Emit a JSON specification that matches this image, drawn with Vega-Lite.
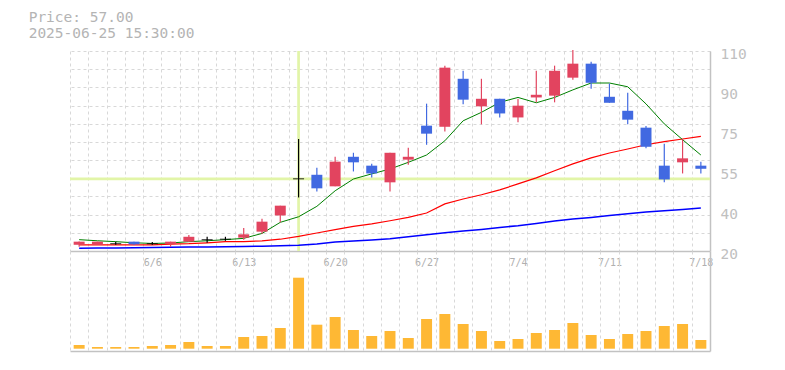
{
  "$schema": "https://vega.github.io/schema/vega-lite/v6.json",
  "background": "white",
  "padding": {"left": 28, "top": 10, "right": 10, "bottom": 10},
  "autosize": {"type": "pad"},
  "config": {"view": {"stroke": null}, "font": "DejaVu Sans Mono"},
  "title": {"text": ["Price: 57.00", "2025-06-25 15:30:00"], "anchor": "start", "dx": -40, "offset": -6, "font": "DejaVu Sans Mono", "fontSize": 14.5, "fontWeight": "normal", "color": "#b4b4b4", "lineHeight": 15.5, "baseline": "alphabetic"},
  "datasets": {
    "cross": [{"date": "2025-06-18", "price": 52.45}],
    "candles": [
      {"date": "2025-06-02", "open": 22.8, "high": 24.3, "low": 21.9, "close": 24.2, "ma5": 25.1, "ma25": 22.8, "ma75": 21.26, "volume": 37000},
      {"date": "2025-06-03", "open": 22.8, "high": 24.2, "low": 22.8, "close": 24.2, "ma5": 24.6, "ma25": 22.8, "ma75": 21.35, "volume": 17000},
      {"date": "2025-06-04", "open": 23.3, "high": 24.2, "low": 22.8, "close": 23.3, "ma5": 24.2, "ma25": 22.8, "ma75": 21.4, "volume": 17000},
      {"date": "2025-06-05", "open": 24.2, "high": 24.2, "low": 22.8, "close": 23.0, "ma5": 23.7, "ma25": 22.8, "ma75": 21.49, "volume": 17000},
      {"date": "2025-06-06", "open": 23.3, "high": 24.0, "low": 22.8, "close": 23.3, "ma5": 23.4, "ma25": 22.8, "ma75": 21.58, "volume": 27000},
      {"date": "2025-06-09", "open": 23.2, "high": 24.2, "low": 21.9, "close": 24.2, "ma5": 23.6, "ma25": 23.1, "ma75": 21.67, "volume": 37000},
      {"date": "2025-06-10", "open": 24.2, "high": 27.2, "low": 24.2, "close": 26.4, "ma5": 24.2, "ma25": 23.3, "ma75": 21.76, "volume": 67000},
      {"date": "2025-06-11", "open": 25.1, "high": 26.4, "low": 23.7, "close": 25.1, "ma5": 24.6, "ma25": 23.7, "ma75": 21.85, "volume": 27000},
      {"date": "2025-06-12", "open": 25.3, "high": 26.4, "low": 24.6, "close": 25.3, "ma5": 25.1, "ma25": 24.2, "ma75": 21.94, "volume": 27000},
      {"date": "2025-06-13", "open": 26.0, "high": 30.4, "low": 25.1, "close": 27.5, "ma5": 25.7, "ma25": 24.2, "ma75": 22.03, "volume": 117000},
      {"date": "2025-06-16", "open": 28.7, "high": 34.5, "low": 27.8, "close": 33.2, "ma5": 27.9, "ma25": 24.6, "ma75": 22.16, "volume": 127000},
      {"date": "2025-06-17", "open": 36.0, "high": 40.4, "low": 32.9, "close": 40.4, "ma5": 32.9, "ma25": 25.3, "ma75": 22.39, "volume": 207000},
      {"date": "2025-06-18", "open": 52.5, "high": 70.4, "low": 44.1, "close": 52.5, "ma5": 35.4, "ma25": 26.6, "ma75": 22.61, "volume": 710000},
      {"date": "2025-06-19", "open": 54.3, "high": 57.5, "low": 46.8, "close": 48.2, "ma5": 40.1, "ma25": 28.1, "ma75": 23.15, "volume": 240000},
      {"date": "2025-06-20", "open": 49.1, "high": 62.4, "low": 49.1, "close": 60.2, "ma5": 47.1, "ma25": 29.6, "ma75": 24.05, "volume": 317000},
      {"date": "2025-06-23", "open": 62.4, "high": 64.2, "low": 55.8, "close": 59.9, "ma5": 52.4, "ma25": 31.1, "ma75": 24.5, "volume": 187000},
      {"date": "2025-06-24", "open": 58.4, "high": 59.3, "low": 53.1, "close": 54.9, "ma5": 54.7, "ma25": 32.2, "ma75": 24.95, "volume": 127000},
      {"date": "2025-06-25", "open": 50.9, "high": 64.2, "low": 46.8, "close": 64.2, "ma5": 56.9, "ma25": 33.6, "ma75": 25.54, "volume": 177000},
      {"date": "2025-06-26", "open": 61.1, "high": 66.5, "low": 58.8, "close": 62.4, "ma5": 59.9, "ma25": 35.1, "ma75": 26.44, "volume": 107000},
      {"date": "2025-06-27", "open": 76.4, "high": 86.3, "low": 67.8, "close": 72.8, "ma5": 63.2, "ma25": 37.1, "ma75": 27.34, "volume": 297000},
      {"date": "2025-06-30", "open": 75.9, "high": 103.4, "low": 73.8, "close": 102.5, "ma5": 69.6, "ma25": 41.2, "ma75": 28.24, "volume": 347000},
      {"date": "2025-07-01", "open": 97.5, "high": 101.1, "low": 86.0, "close": 88.1, "ma5": 78.6, "ma25": 43.4, "ma75": 29.0, "volume": 247000},
      {"date": "2025-07-02", "open": 85.1, "high": 97.5, "low": 77.0, "close": 88.5, "ma5": 82.4, "ma25": 45.3, "ma75": 29.72, "volume": 177000},
      {"date": "2025-07-03", "open": 88.5, "high": 88.5, "low": 80.1, "close": 81.9, "ma5": 86.9, "ma25": 47.5, "ma75": 30.62, "volume": 77000},
      {"date": "2025-07-04", "open": 80.1, "high": 88.4, "low": 77.9, "close": 85.4, "ma5": 89.1, "ma25": 50.2, "ma75": 31.39, "volume": 97000},
      {"date": "2025-07-07", "open": 89.1, "high": 101.1, "low": 86.9, "close": 90.3, "ma5": 86.7, "ma25": 52.9, "ma75": 32.42, "volume": 157000},
      {"date": "2025-07-08", "open": 89.9, "high": 103.4, "low": 86.9, "close": 101.1, "ma5": 89.1, "ma25": 56.1, "ma75": 33.5, "volume": 187000},
      {"date": "2025-07-09", "open": 98.0, "high": 110.5, "low": 97.1, "close": 104.3, "ma5": 92.5, "ma25": 59.2, "ma75": 34.4, "volume": 257000},
      {"date": "2025-07-10", "open": 104.3, "high": 105.2, "low": 93.0, "close": 95.7, "ma5": 95.6, "ma25": 61.9, "ma75": 35.12, "volume": 137000},
      {"date": "2025-07-11", "open": 89.4, "high": 95.4, "low": 86.7, "close": 86.7, "ma5": 95.6, "ma25": 64.1, "ma75": 36.02, "volume": 97000},
      {"date": "2025-07-14", "open": 83.1, "high": 91.2, "low": 77.0, "close": 79.1, "ma5": 93.9, "ma25": 65.9, "ma75": 36.79, "volume": 147000},
      {"date": "2025-07-15", "open": 75.5, "high": 76.2, "low": 66.2, "close": 66.9, "ma5": 86.2, "ma25": 67.8, "ma75": 37.55, "volume": 177000},
      {"date": "2025-07-16", "open": 58.4, "high": 68.3, "low": 50.9, "close": 52.2, "ma5": 77.2, "ma25": 69.2, "ma75": 38.14, "volume": 227000},
      {"date": "2025-07-17", "open": 59.9, "high": 70.2, "low": 54.9, "close": 61.7, "ma5": 70.1, "ma25": 70.4, "ma75": 38.72, "volume": 247000},
      {"date": "2025-07-18", "open": 58.4, "high": 60.2, "low": 54.9, "close": 57.0, "ma5": 63.2, "ma25": 71.6, "ma75": 39.35, "volume": 87000}
    ]
  },
  "data": {"name": "candles"},
  "spacing": 0,
  "bounds": "flush",
  "vconcat": [
    {
      "width": 640,
      "height": 200,
      "layer": [
        {
          "data": {"name": "cross"},
          "mark": {"type": "rule", "color": "#e2f5a8", "strokeWidth": 2.7},
          "encoding": {
            "x": {"field": "date", "type": "ordinal", "scale": {"paddingInner": 0, "paddingOuter": 0},
              "axis": {"title": null, "tickBand": "extent", "grid": true, "gridDash": [3, 3], "gridColor": "#d8d8d8", "ticks": false, "domainColor": "#c2c2c2", "domainWidth": 1.5,
                "labelExpr": "utcday(toDate(datum.value)) == 5 ? utcFormat(toDate(datum.value), '%-m/%-d') : ''",
                "labelAngle": 0, "labelFont": "DejaVu Sans Mono", "labelFontSize": 10, "labelColor": "#b0b0b0", "labelPadding": 6, "labelBaseline": "top", "labelOverlap": false, "labelFlush": false}}
          }
        },
        {
          "data": {"name": "cross"},
          "mark": {"type": "rule", "color": "#e2f5a8", "strokeWidth": 2.7},
          "encoding": {
            "y": {"field": "price", "type": "quantitative", "scale": {"domain": [20, 110], "nice": false, "zero": false},
              "axis": {"orient": "right", "title": null, "tickCount": 100,
                "values": [20, 28.1818, 36.3636, 38, 44.5455, 52.7273, 56, 60.9091, 69.0909, 74, 77.2727, 85.4545, 92, 93.6364, 101.8182, 110],
                "labelExpr": "indexof([20,38,56,74,92,110], datum.value) >= 0 ? format(round(datum.value/5)*5, 'd') : ''",
                "grid": true, "gridDash": [3, 3], "gridColor": "#d8d8d8",
                "gridOpacity": {"condition": {"test": "indexof([38,56,74,92], datum.value) >= 0", "value": 0}, "value": 1},
                "ticks": false, "domain": true, "domainColor": "#c2c2c2", "domainWidth": 1.5,
                "labelFont": "DejaVu Sans Mono", "labelFontSize": 14.5, "labelColor": "#c0c0c0", "labelPadding": 10, "labelOffset": 3, "labelFlush": false, "labelBaseline": "middle", "labelAlign": "left", "labelOverlap": false}}
          }
        },
        {
          "mark": {"type": "line", "color": "#ff0000", "strokeWidth": 1.2},
          "encoding": {
            "x": {"field": "date", "type": "ordinal", "scale": {"paddingInner": 0, "paddingOuter": 0}},
            "y": {"field": "ma25", "type": "quantitative", "scale": {"domain": [20, 110], "nice": false, "zero": false}, "axis": {"title": null}}
          }
        },
        {
          "mark": {"type": "line", "color": "#0000ff", "strokeWidth": 1.5},
          "encoding": {
            "x": {"field": "date", "type": "ordinal", "scale": {"paddingInner": 0, "paddingOuter": 0}},
            "y": {"field": "ma75", "type": "quantitative", "scale": {"domain": [20, 110], "nice": false, "zero": false}, "axis": {"title": null}}
          }
        },
        {
          "mark": {"type": "line", "color": "#008000", "strokeWidth": 1},
          "encoding": {
            "x": {"field": "date", "type": "ordinal", "scale": {"paddingInner": 0, "paddingOuter": 0}},
            "y": {"field": "ma5", "type": "quantitative", "scale": {"domain": [20, 110], "nice": false, "zero": false}, "axis": {"title": null}}
          }
        },
        {
          "mark": {"type": "rule", "strokeWidth": 1.2},
          "encoding": {
            "x": {"field": "date", "type": "ordinal", "scale": {"paddingInner": 0, "paddingOuter": 0}},
            "y": {"field": "low", "type": "quantitative", "scale": {"domain": [20, 110], "nice": false, "zero": false}, "axis": {"title": null}},
            "y2": {"field": "high"},
            "color": {"condition": [{"test": "datum.close > datum.open", "value": "#e2445f"}, {"test": "datum.close < datum.open", "value": "#4169e1"}], "value": "#000000"}
          }
        },
        {
          "mark": {"type": "bar", "width": {"band": 0.6}},
          "encoding": {
            "x": {"field": "date", "type": "ordinal", "scale": {"paddingInner": 0, "paddingOuter": 0}},
            "y": {"field": "open", "type": "quantitative", "scale": {"domain": [20, 110], "nice": false, "zero": false}, "axis": {"title": null}},
            "y2": {"field": "close"},
            "color": {"condition": [{"test": "datum.close > datum.open", "value": "#e2445f"}, {"test": "datum.close < datum.open", "value": "#4169e1"}], "value": "#000000"}
          }
        },
        {
          "transform": [{"filter": "datum.open == datum.close"}],
          "mark": {"type": "tick", "color": "#000000", "thickness": 1.2, "size": 11, "orient": "horizontal"},
          "encoding": {
            "x": {"field": "date", "type": "ordinal", "scale": {"paddingInner": 0, "paddingOuter": 0}},
            "y": {"field": "close", "type": "quantitative", "scale": {"domain": [20, 110], "nice": false, "zero": false}, "axis": {"title": null}}
          }
        }
      ]
    },
    {
      "width": 640,
      "height": 100,
      "mark": {"type": "bar", "color": "#feb834", "width": {"band": 0.6}},
      "encoding": {
        "x": {"field": "date", "type": "ordinal", "scale": {"paddingInner": 0, "paddingOuter": 0},
          "axis": {"title": null, "tickBand": "extent", "grid": true, "gridDash": [3, 3], "gridColor": "#d8d8d8", "ticks": false, "labels": false, "domainColor": "#c2c2c2", "domainWidth": 1.5}},
        "y": {"field": "volume", "type": "quantitative", "scale": {"domain": [-23000, 977000], "nice": false, "zero": false},
          "axis": {"orient": "right", "title": null, "grid": false, "ticks": false, "labels": false, "domainColor": "#c2c2c2", "domainWidth": 1.5}}
      }
    }
  ]
}
